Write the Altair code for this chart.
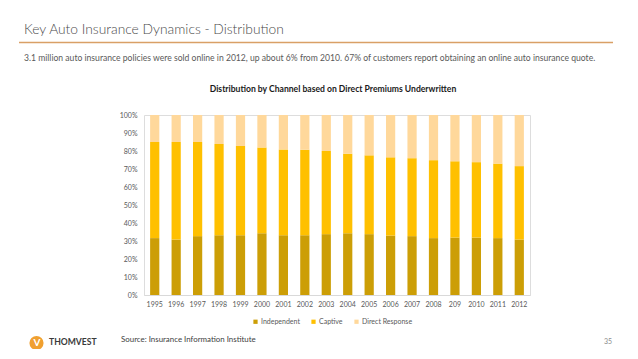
import altair as alt
import pandas as pd

# ---- data ----
years = ["1995", "1996", "1997", "1998", "1999", "2000", "2001", "2002", "2003",
         "2004", "2005", "2006", "2007", "2008", "209", "2010", "2011", "2012"]
independent = [31.6, 30.8, 32.7, 33.2, 33.2, 34.3, 33.2, 33.2, 33.8,
               34.3, 33.8, 33.0, 32.7, 31.6, 31.9, 31.9, 31.6, 30.8]
captive = [53.4, 54.2, 52.3, 50.7, 49.6, 47.7, 47.7, 47.5, 46.2,
           44.2, 43.8, 43.5, 43.3, 43.3, 42.4, 41.9, 41.4, 40.8]
direct_response = [15.0, 15.0, 15.0, 16.1, 17.2, 18.0, 19.1, 19.3, 20.0,
                   21.5, 22.4, 23.5, 24.0, 25.1, 25.7, 26.2, 27.0, 28.4]
series_names = ["Independent", "Captive", "Direct Response"]
series_colors = ["#CC9E06", "#FFC000", "#FFD89B"]
y_ticks = [0, 10, 20, 30, 40, 50, 60, 70, 80, 90, 100]

page_title = "Key Auto Insurance Dynamics  - Distribution"
subtitle = ("3.1 million auto insurance policies were sold online in 2012, up about 6% from 2010. "
            "67% of customers report obtaining an online auto insurance quote.")
chart_title = "Distribution by Channel based on Direct Premiums Underwritten"
source = "Source: Insurance Information Institute"
brand = "THOMVEST"
page_no = "35"

FONT = "Lato"

rows = []
for i, y in enumerate(years):
    for k, (name, vals) in enumerate(zip(series_names, [independent, captive, direct_response])):
        rows.append({"year": y, "series": name, "value": vals[i], "order": k})
df = pd.DataFrame(rows)

W, H = 386, 180

bars = alt.Chart(df).mark_bar().encode(
    x=alt.X("year:N", sort=years, title=None,
            scale=alt.Scale(paddingInner=0.57, paddingOuter=0.285),
            axis=alt.Axis(labelAngle=0, ticks=False, domainColor="#d9d9d9",
                          labelFontSize=7, labelColor="#595959", labelPadding=5,
                          labelFont=FONT)),
    y=alt.Y("value:Q", stack="zero", title=None,
            scale=alt.Scale(domain=[0, 100], nice=False),
            axis=alt.Axis(values=y_ticks, labelExpr="datum.value + '%'", grid=False,
                          domain=False, ticks=False, labelFontSize=7,
                          labelColor="#595959", labelPadding=7, labelFont=FONT)),
    color=alt.Color("series:N", sort=series_names,
                    scale=alt.Scale(domain=series_names, range=series_colors),
                    legend=alt.Legend(orient="none", legendX=108, legendY=203,
                                      direction="horizontal", title=None,
                                      symbolType="square", symbolSize=18,
                                      symbolStrokeWidth=0, labelFontSize=7,
                                      labelColor="#595959", labelFont=FONT,
                                      columnPadding=10, labelOffset=2)),
    order=alt.Order("order:Q", sort="ascending"),
)


def txt(s, x, y, size, color, weight="normal", align="left"):
    return alt.Chart(pd.DataFrame({"t": [s]})).mark_text(
        align=align, baseline="middle", fontSize=size, color=color,
        fontWeight=weight, font=FONT
    ).encode(x=alt.value(x), y=alt.value(y), text="t:N")


title_l = txt(page_title, -120, -85, 13.8, "#4a4a4a", weight=300)
sub_l = txt(subtitle, -120, -57.5, 8.6, "#595959")
ctitle_l = txt(chart_title, 189, -26.5, 8.6, "#1a1a1a", weight="bold", align="center")
src_l = txt(source, -23, 224.5, 7.9, "#404040")
pg_l = txt(page_no, 464, 226.5, 7, "#8c8c8c", align="center")
brand_l = txt(brand, -95, 226.5, 8.6, "#3a3a3a", weight="bold")

line_l = alt.Chart(pd.DataFrame({"a": [0]})).mark_rule(
    color="#D9A066", strokeWidth=1.4
).encode(x=alt.value(-125), x2=alt.value(469), y=alt.value(-72.5))

logo_c = alt.Chart(pd.DataFrame({"a": [0]})).mark_point(
    filled=True, shape="circle", size=200, color="#F0A030", opacity=1
).encode(x=alt.value(-107.5), y=alt.value(228))
logo_v = alt.Chart(pd.DataFrame({"t": ["V"]})).mark_text(
    align="center", baseline="middle", fontSize=10, fontWeight="bold",
    color="white", font=FONT
).encode(x=alt.value(-107), y=alt.value(228), text="t:N")

chart = alt.layer(
    bars, line_l, title_l, sub_l, ctitle_l, src_l, pg_l, brand_l, logo_c, logo_v
).properties(
    width=W, height=H,
    autosize=alt.AutoSizeParams(type="none"),
    padding={"left": 136, "top": 107, "right": 98, "bottom": 54},
).configure_view(stroke=None).configure(background="white")

chart.save("out.html", embed_options={"renderer": "svg", "actions": False})
